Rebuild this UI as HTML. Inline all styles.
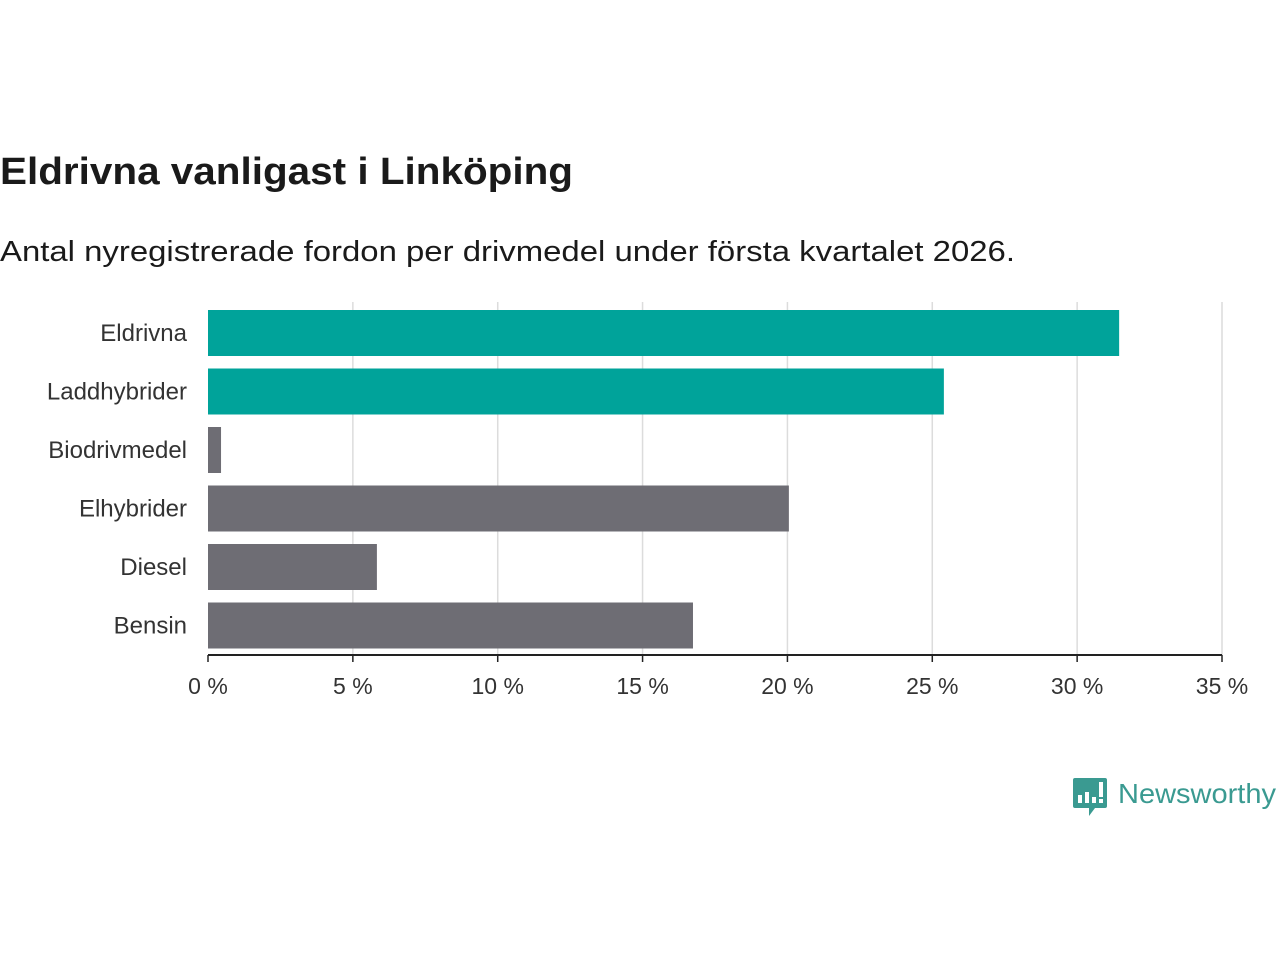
<!DOCTYPE html>
<html><head><meta charset="utf-8">
<style>
body{margin:0;background:#fff;width:1280px;height:960px;overflow:hidden;font-family:"Liberation Sans","DejaVu Sans",sans-serif;}
svg text{font-family:"Liberation Sans","DejaVu Sans",sans-serif;}
</style></head>
<body>
<svg id="chart" width="1280" height="960">
<text x="0" y="184" font-size="38" font-weight="bold" fill="#1a1a1a" textLength="573" lengthAdjust="spacingAndGlyphs">Eldrivna vanligast i Linköping</text>
<text x="0" y="261" font-size="29" fill="#1a1a1a" textLength="1015" lengthAdjust="spacingAndGlyphs">Antal nyregistrerade fordon per drivmedel under första kvartalet 2026.</text>
<g id="grid"></g>
<g id="bars"></g>
<g id="axis"></g>
<g>
<path d="M1073,778 h32 a2,2 0 0 1 2,2 v26 a2,2 0 0 1 -2,2 h-10 l-6,8 v-8 h-14 a2,2 0 0 1 -2,-2 v-26 a2,2 0 0 1 2,-2z" fill="#3a9a91"/>
<rect x="1078" y="795" width="4" height="8" fill="#fff"/>
<rect x="1085" y="792" width="4" height="11" fill="#fff"/>
<rect x="1092" y="797" width="4" height="6" fill="#fff"/>
<rect x="1099" y="782" width="4" height="15" fill="#fff"/>
<rect x="1099" y="799" width="4" height="4" fill="#fff"/>
<text x="1118" y="803" font-size="28" fill="#3a9a91" textLength="158" lengthAdjust="spacingAndGlyphs">Newsworthy</text>
</g>
</svg>
<script>
const categories=["Eldrivna","Laddhybrider","Biodrivmedel","Elhybrider","Diesel","Bensin"];
const values=[31.45,25.4,0.45,20.05,5.83,16.74];
const highlight=[true,true,false,false,false,false];
const ticks=[0,5,10,15,20,25,30,35];
const tickLabels=["0 %","5 %","10 %","15 %","20 %","25 %","30 %","35 %"];
const NS="http://www.w3.org/2000/svg";
const x0=208,x1=1222,plotTop=302,plotBottom=655,pitch=58.5,barH=46,barTop=310;
const xs=v=>x0+(v/35)*(x1-x0);
const ys=i=>barTop+i*pitch;
function mk(tag,attrs,parent){const e=document.createElementNS(NS,tag);for(const k in attrs)e.setAttribute(k,attrs[k]);parent.appendChild(e);return e;}
const grid=document.getElementById('grid'),bars=document.getElementById('bars'),axis=document.getElementById('axis');
ticks.forEach((t,i)=>{
 if(t>0){const g=mk('line',{x1:xs(t),x2:xs(t),y1:plotTop,y2:plotBottom,stroke:'#dcdcdc','stroke-width':1.5},grid);
 
 }
 const tk=mk('line',{x1:xs(t),x2:xs(t),y1:plotBottom,y2:plotBottom+7,stroke:'#222','stroke-width':1.5},axis);
 
 
 const tl=mk('text',{x:xs(t),y:plotBottom+39,'font-size':23,'text-anchor':'middle',fill:'#333'},axis);
 tl.textContent=tickLabels[i];
 
 
});
categories.forEach((c,i)=>{
 const r=mk('rect',{x:x0,y:ys(i),width:xs(values[i])-x0,height:barH,fill:highlight[i]?'#00a39a':'#6e6d74'},bars);
 
 
 const l=mk('text',{x:187,y:ys(i)+barH/2+8,'font-size':24,'text-anchor':'end',fill:'#333'},bars);
 l.textContent=c;
 
 
});
const ax=mk('line',{x1:x0,x2:x1,y1:plotBottom,y2:plotBottom,stroke:'#222','stroke-width':2},axis);


</script>
</body></html>
